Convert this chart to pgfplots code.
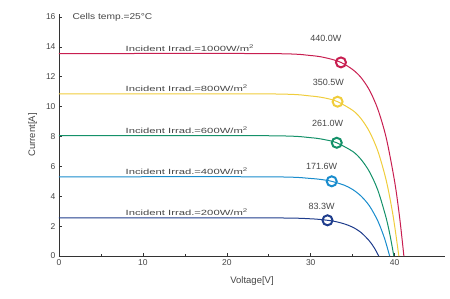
\documentclass[border=0pt]{standalone}
\usepackage{pgfplots}
\pgfplotsset{compat=1.18}
\usepackage{fontspec}
\setmainfont{Liberation Sans}
\definecolor{cred}{RGB}{200,30,80}
\definecolor{cyel}{RGB}{240,205,60}
\definecolor{cgrn}{RGB}{20,145,105}
\definecolor{cblu}{RGB}{25,140,205}
\definecolor{cdbl}{RGB}{30,60,140}
\definecolor{txt}{RGB}{70,70,70}
\newcommand{\irr}[1]{\scalebox{1.5}[1]{\fontsize{7.5}{9}\selectfont Incident Irrad.=#1W/m\textsuperscript{2}}}
\begin{document}
\begin{tikzpicture}
\begin{axis}[
  scale only axis, width=386pt, height=242pt,
  xmin=0, xmax=46, ymin=0, ymax=16.2,
  axis lines*=left,
  axis line style={black!80, line width=0.6pt},
  tick align=inside,
  tick style={black!80, line width=0.6pt},
  major tick length=3pt, minor tick length=2pt,
  xtick={0,10,20,30,40}, minor xtick={5,15,25,35},
  ytick={0,2,...,16},
  tick label style={font=\fontsize{8.5}{10}\selectfont, text=txt},
  /pgf/number format/assume math mode=true,
  xlabel={Voltage[V]}, ylabel={Current[A]},
  label style={font=\fontsize{9.5}{11}\selectfont, text=txt},
  xlabel style={yshift=-4pt},
  ylabel style={yshift=2pt},
  clip=false,
]
% 1000 W/m2
\addplot[cred, line width=1pt, smooth] coordinates {(0,13.55) (25,13.55) (30,13.42) (32,13.24) (33.6,12.96) (35,12.48) (36,11.94) (37,11.10) (38,9.82) (39,7.90) (40,4.98) (40.6,2.55) (41.1,0)};
% 800
\addplot[cyel, line width=1pt, smooth] coordinates {(0,10.85) (25,10.85) (30,10.71) (32,10.54) (33.2,10.33) (35,9.75) (36,9.19) (37,8.32) (38,7.02) (39,5.05) (39.8,2.74) (40.5,0)};
% 600
\addplot[cgrn, line width=1pt, smooth] coordinates {(0,8.05) (25,8.05) (30,7.92) (32,7.75) (33.1,7.58) (35,7.00) (36,6.46) (37,5.64) (38,4.40) (39,2.52) (39.5,1.24) (39.9,0)};
% 400
\addplot[cblu, line width=1pt, smooth] coordinates {(0,5.3) (25,5.3) (30,5.19) (32,5.06) (32.5,5.00) (34,4.74) (35,4.45) (36,4.01) (37,3.35) (38,2.34) (38.8,1.17) (39.4,0)};
% 200
\addplot[cdbl, line width=1pt, smooth] coordinates {(0,2.55) (25,2.55) (30,2.49) (32,2.39) (33,2.30) (34,2.15) (35,1.93) (36,1.57) (37,1.00) (37.6,0.52) (38.1,0)};
% MPP circles
\addplot[cred, only marks, mark=o, mark size=5pt, line width=2pt] coordinates {(33.6,12.96)};
\addplot[cyel, only marks, mark=o, mark size=5pt, line width=2pt] coordinates {(33.2,10.33)};
\addplot[cgrn, only marks, mark=o, mark size=5pt, line width=2pt] coordinates {(33.1,7.58)};
\addplot[cblu, only marks, mark=o, mark size=5pt, line width=2pt] coordinates {(32.5,5.00)};
\addplot[cdbl, only marks, mark=o, mark size=5pt, line width=2pt] coordinates {(32.0,2.39)};
% labels
\node[anchor=south west, inner sep=1pt, text=txt] at (axis cs:7.8,13.6) {\irr{1000}};
\node[anchor=south west, inner sep=1pt, text=txt] at (axis cs:7.8,10.9) {\irr{800}};
\node[anchor=south west, inner sep=1pt, text=txt] at (axis cs:7.8,8.1) {\irr{600}};
\node[anchor=south west, inner sep=1pt, text=txt] at (axis cs:7.8,5.35) {\irr{400}};
\node[anchor=south west, inner sep=1pt, text=txt] at (axis cs:7.8,2.6) {\irr{200}};
\node[anchor=west, text=txt] at (axis cs:1.2,15.95) {\scalebox{1.2}[1]{\fontsize{8.5}{10}\selectfont Cells temp.=25\textdegree C}};
\node[text=txt, font=\fontsize{9}{10}\selectfont] at (axis cs:31.8,14.6) {440.0W};
\node[text=txt, font=\fontsize{9}{10}\selectfont] at (axis cs:32.1,11.6) {350.5W};
\node[text=txt, font=\fontsize{9}{10}\selectfont] at (axis cs:32.0,8.9) {261.0W};
\node[text=txt, font=\fontsize{9}{10}\selectfont] at (axis cs:31.3,6.0) {171.6W};
\node[text=txt, font=\fontsize{9}{10}\selectfont] at (axis cs:31.3,3.3) {83.3W};
\end{axis}
\pgfresetboundingbox
\path[use as bounding box] ([xshift=-59pt,yshift=-42pt]current axis.south west) rectangle ([xshift=5pt,yshift=14pt]current axis.north east);
\end{tikzpicture}
\end{document}
